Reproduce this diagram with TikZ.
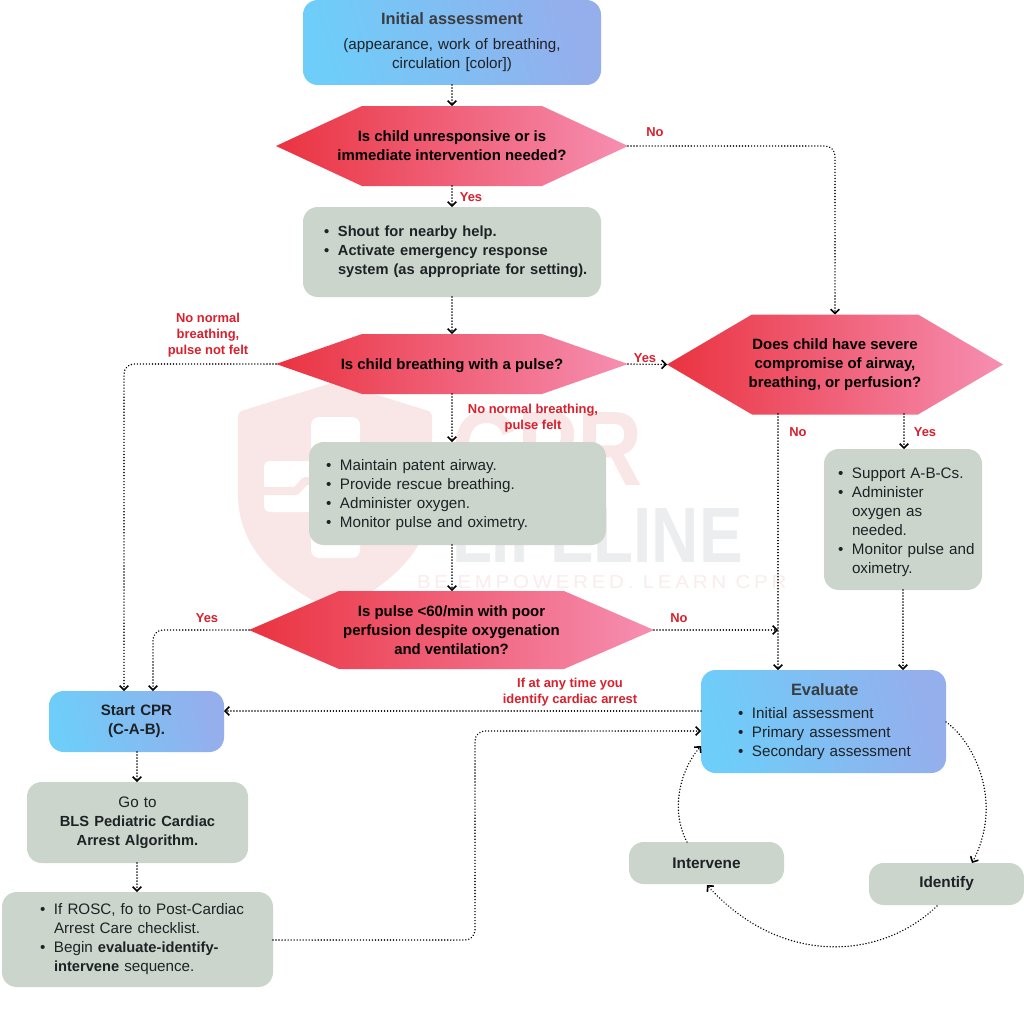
\documentclass[tikz,border=0pt]{standalone}
\usepackage{fontspec}
\setmainfont{Liberation Sans}
\usetikzlibrary{arrows.meta,calc}
\definecolor{sage}{HTML}{CCD5CC}
\definecolor{bluea}{HTML}{6ECDF9}
\definecolor{blueb}{HTML}{95AEEC}
\definecolor{reda}{HTML}{EA3340}
\definecolor{redb}{HTML}{F68FB2}
\definecolor{lbl}{HTML}{D9202C}
\definecolor{txt}{HTML}{1E2226}
\definecolor{headtxt}{HTML}{3A3D40}
\definecolor{wmpink}{HTML}{F9E6E7}
\definecolor{wmgray}{HTML}{ECEDEF}
\definecolor{wmtag}{HTML}{FAECED}
\newcommand{\reg}{\fontsize{11.4}{14.25}\selectfont\mdseries}
\newcommand{\bld}{\fontsize{11}{14.25}\selectfont\bfseries}
\newcommand{\hed}{\fontsize{12.3}{14}\selectfont\bfseries}
\tikzset{
  x=0.75pt,y=-0.75pt,
  every node/.style={font=\reg,text=txt,inner sep=0pt,outer sep=0pt},
  flow/.style={draw=black,line width=1.2pt,line cap=round,dash pattern=on 0.01pt off 2.25pt,-{Straight Barb[length=3.2pt,width=6.5pt,line width=1.2pt]}},
  flowr/.style={flow,rounded corners=7.5pt},
  sagebox/.style={fill=sage,rounded corners=11pt},
  bluebox/.style={shade,left color=bluea,right color=blueb,shading angle=105,rounded corners=11pt},
  hexfill/.style={shade,left color=reda,right color=redb,shading angle=90},
  lab/.style={font=\fontsize{9.7}{12}\selectfont\bfseries,text=lbl,align=center},
  hextext/.style={font=\fontsize{11.2}{14.4}\selectfont\bfseries,text=black,align=center},
}
\newcommand{\bl}{\makebox[10.5pt][l]{•}}
\newcommand{\ind}{\hspace*{10.5pt}}
% name, x1,y1,x2,y2, style, left pad, text
\newcommand{\bxnode}[8]{%
  \pgfmathsetmacro{\bw}{(#4-#2)*0.75}%
  \pgfmathsetmacro{\bh}{(#5-#3)*0.75}%
  \pgfmathsetmacro{\bt}{(#4-#2-2*#7)*0.75}%
  \pgfmathsetmacro{\bp}{#7*0.75}%
  \node[#6,minimum width=\bw pt,minimum height=\bh pt,text width=\bt pt,inner xsep=\bp pt] (#1) at ({(#2+#4)/2},{(#3+#5)/2}) {#8};}
% name, cx,cy, half width, half height, inset, text
\newcommand{\hexnode}[7]{%
  \path[hexfill] (#2-#4,#3) -- (#2-#4+#6,#3-#5) -- (#2+#4-#6,#3-#5) -- (#2+#4,#3) -- (#2+#4-#6,#3+#5) -- (#2-#4+#6,#3+#5) -- cycle;
  \pgfmathsetmacro{\bw}{2*#4*0.75}%
  \pgfmathsetmacro{\bh}{2*#5*0.75}%
  \node[hextext,minimum width=\bw pt,minimum height=\bh pt] (#1) at (#2,#3) {#7};}
\begin{document}
\begin{tikzpicture}
\useasboundingbox (0,0) rectangle (1024,1024);
\fill[white] (0,0) rectangle (1024,1024);
% watermark
\fill[wmpink,rounded corners=3pt] (335,382) -- (432,412) -- (432,490) .. controls (432,550) and (390,585) .. (335,612) .. controls (280,585) and (238,550) .. (238,490) -- (238,412) -- cycle;
\fill[white,rounded corners=6pt] (311,417) rectangle (360,558);
\fill[white,rounded corners=4pt] (264,461) rectangle (315,512);
\draw[wmpink,line width=6pt,line join=round] (264,491) -- (296,491) -- (305,481) -- (316,481);
\node[text=wmpink,anchor=south west] (wma) at (452,487) {\resizebox{143pt}{55.5pt}{\bfseries CPR}};
\node[text=wmgray,anchor=south west] (wmb) at (452,562) {\resizebox{218pt}{40.5pt}{\bfseries LIFELINE}};
\node[text=wmtag,anchor=south west] (wmc) at (417,589) {\resizebox{277pt}{9.8pt}{\addfontfeature{LetterSpace=18}BE EMPOWERED. LEARN CPR}};
% boxes
\bxnode{init}{303}{0}{601}{85}{bluebox,align=center}{10}{\hed\textcolor{headtxt}{Initial assessment}\\[4.2pt]\reg (appearance, work of breathing,\\circulation [color])\rule[-3pt]{0pt}{0pt}}
\hexnode{q1}{452}{146}{176}{40}{86}{Is child unresponsive or is\\immediate intervention needed?}
\bxnode{help}{303}{207}{601}{297}{sagebox,align=left}{21}{\bld\bl Shout for nearby help.\\\bl Activate emergency response\\\mbox{\ind system (as appropriate for setting).}}
\hexnode{q2}{452}{364}{176}{30}{86}{\rule{0pt}{11pt}Is child breathing with a pulse?}
\hexnode{q3}{835}{364.5}{168}{50}{85}{Does child have severe\\compromise of airway,\\breathing, or perfusion?\rule{0pt}{11pt}}
\bxnode{maint}{309}{442}{606}{545}{sagebox,align=left}{17}{\rule{0pt}{11.3pt}\bl Maintain patent airway.\\\bl Provide rescue breathing.\\\bl Administer oxygen.\\\bl Monitor pulse and oximetry.}
\bxnode{supp}{824}{449}{982}{590}{sagebox,align=left}{14}{\rule{0pt}{12.3pt}\bl Support A-B-Cs.\\\bl Administer\\\ind oxygen as\\\ind needed.\\\mbox{\bl Monitor pulse and}\\\ind oximetry.}
\hexnode{q4}{451.5}{630}{202.5}{39}{90}{Is pulse <60/min with poor\\perfusion despite oxygenation\\and ventilation?}
\bxnode{eval}{701}{670}{946}{773}{bluebox,align=left}{37}{\hspace*{39.75pt}\hed\textcolor{headtxt}{Evaluate}\\[3.5pt]\reg\bl Initial assessment\\\bl Primary assessment\\\mbox{\bl Secondary assessment}\rule[-1.5pt]{0pt}{0pt}}
\bxnode{cpr}{49}{691}{224}{752}{bluebox,align=center}{5}{\fontsize{11.3}{14.25}\selectfont\bfseries Start CPR\\(C-A-B).}
\bxnode{goto}{27}{782}{248}{863}{sagebox,align=center}{5}{\reg Go to\\\bld BLS Pediatric Cardiac\\\bld Arrest Algorithm.}
\bxnode{rosc}{2}{892}{273}{987}{sagebox,align=left}{38}{\mbox{\bl If ROSC, fo to Post-Cardiac}\\\ind Arrest Care checklist.\\\mbox{\bl Begin {\bld evaluate-identify-}}\\\ind{\bld intervene} sequence.}
\bxnode{interv}{629}{842}{784}{884}{sagebox,align=center}{5}{\fontsize{11.5}{14.25}\selectfont\bfseries Intervene}
\bxnode{ident}{869}{863}{1024}{905}{sagebox,align=center}{5}{\fontsize{11.5}{14.25}\selectfont\bfseries Identify}
% free ends
\coordinate (d3lo) at (778,414);
\coordinate (d3re) at (904,414);
\coordinate (evtl) at (778,670);
\coordinate (evtr) at (903,670);
\coordinate (suppt) at (904,449);
\coordinate (suppb) at (903,590);
\coordinate (meet) at (778,630);
\coordinate (cprta) at (124,691);
\coordinate (cprtb) at (153,691);
\coordinate (evl) at (701,711);
\coordinate (evm) at (701,731);
\coordinate (evb) at (701,746);
\coordinate (cpre) at (224,711);
\coordinate (roscr) at (273,940);
\coordinate (eve) at (946,722);
\coordinate (idt) at (972,863);
\coordinate (idb) at (937,906);
\coordinate (intb) at (707,885);
\coordinate (intt) at (687,842);
% connectors
\draw[flow] (init.south) -- (q1.north);
\draw[flowr] (q1.east) -- (835,146) -- (q3.north);
\draw[flow] (q1.south) -- (help.north);
\draw[flow] (help.south) -- (q2.north);
\draw[flowr] (q2.west) -- (124,364) -- (cprta);
\draw[flow] (q2.east) -- (q3.west);
\draw[flow] (q2.south) -- (452,442);
\draw[flow] (452,545) -- (452,591);
\draw[flow] (d3lo) -- (evtl);
\draw[flow] (d3re) -- (suppt);
\draw[flow] (suppb) -- (evtr);
\draw[flowr] (q4.west) -- (153,630) -- (cprtb);
\draw[flow] (q4.east) -- (meet);
\draw[flow] (evl) -- (cpre);
\draw[flow] (cpr.south -| 137,0) -- (goto.north -| 137,0);
\draw[flow] (goto.south -| 137,0) -- (rosc.north -| 137,0);
\draw[flowr] (roscr) -- (475,940) -- (475,731) -- (evm);
\draw[flow] (eve) .. controls (972,740) and (1005,800) .. (idt);
\draw[flow] (idb) .. controls (880,961) and (780,966) .. (intb);
\draw[flow] (intt) .. controls (670,810) and (680,770) .. (evb);
% labels
\node[lab] (l1) at (655,132) {No};
\node[lab] (l2) at (471,197) {Yes};
\node[lab] (l3) at (208,335.5) {No normal\\breathing,\\pulse not felt};
\node[lab] (l4) at (645,358) {Yes};
\node[lab] (l5) at (533,418) {No normal breathing,\\pulse felt};
\node[lab] (l6) at (798,432) {No};
\node[lab] (l7) at (925,432) {Yes};
\node[lab] (l8) at (207,618) {Yes};
\node[lab] (l9) at (679,618) {No};
\node[lab] (l10) at (570,692) {If at any time you\\identify cardiac arrest};
\end{tikzpicture}
\end{document}
